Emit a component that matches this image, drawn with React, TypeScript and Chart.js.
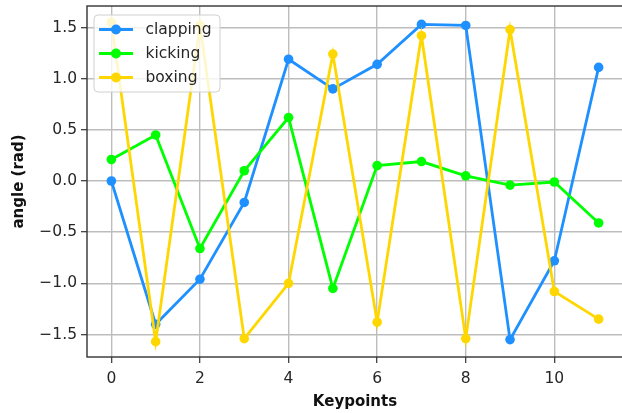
import React, { useEffect, useRef } from "react";
import { Chart, registerables } from "chart.js";

Chart.register(...registerables);

// Joint angle per keypoint for three actions
const keypoints = [0, 1, 2, 3, 4, 5, 6, 7, 8, 9, 10, 11];
const clapping = [0.0, -1.4, -0.96, -0.21, 1.19, 0.9, 1.14, 1.53, 1.52, -1.55, -0.78, 1.11];
const kicking = [0.21, 0.45, -0.66, 0.1, 0.62, -1.05, 0.15, 0.19, 0.05, -0.04, -0.01, -0.41];
const boxing = [1.55, -1.57, 1.52, -1.54, -1.0, 1.24, -1.38, 1.42, -1.54, 1.48, -1.08, -1.35];

const seriesNames = ["clapping", "kicking", "boxing"];
const seriesColors = ["#1E90FF", "#00FF00", "#FFD700"];

const xTicks = [0, 2, 4, 6, 8, 10];
const yTicks = [-1.5, -1.0, -0.5, 0.0, 0.5, 1.0, 1.5];

const FONT = "'DejaVu Sans', sans-serif";

// Axes frame drawn on top of the lines, like matplotlib spines
const framePlugin = {
  id: "frame",
  afterDatasetsDraw(chart: any) {
    const { ctx, chartArea } = chart;
    ctx.save();
    ctx.strokeStyle = "#333333";
    ctx.lineWidth = 1.4;
    ctx.strokeRect(chartArea.left, chartArea.top, chartArea.right - chartArea.left, chartArea.bottom - chartArea.top);
    ctx.restore();
  },
};

// Legend box in the upper-left of the plot area with line + marker swatches
const legendPlugin = {
  id: "boxLegend",
  afterDraw(chart: any) {
    const { ctx } = chart;
    const x0 = 94, y0 = 15, w = 126, h = 77, r = 4;
    ctx.save();
    ctx.beginPath();
    ctx.moveTo(x0 + r, y0);
    ctx.arcTo(x0 + w, y0, x0 + w, y0 + h, r);
    ctx.arcTo(x0 + w, y0 + h, x0, y0 + h, r);
    ctx.arcTo(x0, y0 + h, x0, y0, r);
    ctx.arcTo(x0, y0, x0 + w, y0, r);
    ctx.closePath();
    ctx.fillStyle = "rgba(255,255,255,0.8)";
    ctx.fill();
    ctx.strokeStyle = "#d0d0d0";
    ctx.lineWidth = 1;
    ctx.stroke();
    chart.data.datasets.forEach((ds: any, i: number) => {
      const y = 29.5 + i * 24;
      ctx.strokeStyle = ds.borderColor;
      ctx.lineWidth = 2.8;
      ctx.beginPath();
      ctx.moveTo(99, y);
      ctx.lineTo(133, y);
      ctx.stroke();
      ctx.fillStyle = ds.borderColor;
      ctx.beginPath();
      ctx.arc(116, y, 5, 0, Math.PI * 2);
      ctx.fill();
      ctx.fillStyle = "#262626";
      ctx.font = `15.5px ${FONT}`;
      ctx.textBaseline = "middle";
      ctx.textAlign = "left";
      ctx.fillText(ds.label, 145.5, y);
    });
    ctx.restore();
  },
};

const fmt = (v: number) => v.toFixed(1).replace("-", "\u2212");

export default function App() {
  const ref = useRef<HTMLCanvasElement | null>(null);

  useEffect(() => {
    if (!ref.current) return;
    const values = [clapping, kicking, boxing];
    const chart = new Chart(ref.current, {
      type: "line",
      data: {
        datasets: values.map((vals, i) => ({
          label: seriesNames[i],
          data: keypoints.map((k, j) => ({ x: k, y: vals[j] })),
          borderColor: seriesColors[i],
          backgroundColor: seriesColors[i],
          pointBackgroundColor: seriesColors[i],
          pointBorderColor: seriesColors[i],
          borderWidth: 2.8,
          pointRadius: 4.8,
          pointBorderWidth: 0,
          tension: 0,
          fill: false,
          order: 2 - i,
        })),
      },
      options: {
        animation: false,
        responsive: false,
        devicePixelRatio: 1,
        layout: { padding: { left: 0, top: 6, right: 7, bottom: 0 } },
        plugins: { legend: { display: false }, tooltip: { enabled: false } },
        scales: {
          x: {
            type: "linear",
            min: -0.55,
            max: 11.55,
            afterBuildTicks: (s: any) => {
              s.ticks = xTicks.map((v) => ({ value: v }));
            },
            afterFit: (s: any) => {
              s.height = 56;
              s.paddingLeft = 0;
              s.paddingRight = 0;
            },
            grid: { color: "#bdbdbd", lineWidth: 1.4, tickLength: 6, tickColor: "#333333", tickWidth: 1.2 },
            border: { display: false },
            ticks: { color: "#262626", font: { family: FONT, size: 15.5 }, padding: 7, callback: (v: any) => String(v) },
            title: { display: true, text: "Keypoints", color: "#111111", font: { family: FONT, size: 15, weight: "bold" }, padding: { top: 0, bottom: 2 } },
          },
          y: {
            type: "linear",
            min: -1.72,
            max: 1.71,
            afterBuildTicks: (s: any) => {
              s.ticks = yTicks.map((v) => ({ value: v }));
            },
            afterFit: (s: any) => {
              s.width = 87;
              s.paddingTop = 0;
              s.paddingBottom = 0;
            },
            grid: { color: "#bdbdbd", lineWidth: 1.4, tickLength: 6, tickColor: "#333333", tickWidth: 1.2 },
            border: { display: false },
            ticks: { color: "#262626", font: { family: FONT, size: 15.5 }, padding: 4, callback: (v: any) => fmt(Number(v)) },
            title: { display: true, text: "angle (rad)", color: "#111111", font: { family: FONT, size: 15, weight: "bold" }, padding: { top: 10, bottom: 0 } },
          },
        },
      },
      plugins: [framePlugin, legendPlugin],
    } as any);
    return () => chart.destroy();
  }, []);

  return (
    <div style={{ position: "fixed", left: 0, top: 0, width: 622, height: 413, overflow: "hidden", background: "#fff" }}>
      <canvas ref={ref} width={630} height={413} style={{ width: 630, height: 413, display: "block" }} />
    </div>
  );
}
